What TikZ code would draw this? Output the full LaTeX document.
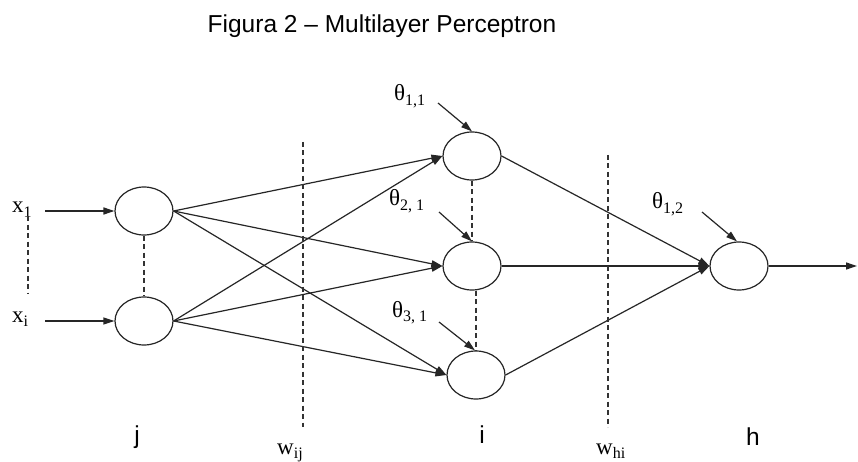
\documentclass[tikz,border=0pt]{standalone}
\usepackage{fontspec}
\setmainfont{Liberation Serif}
\newfontfamily\labsans{Liberation Sans}
\usetikzlibrary{shapes.geometric,arrows.meta}
\newcommand\lsub[1]{\raisebox{-0.4ex}{\fontsize{16}{16}\selectfont #1}}
\tikzset{
  neuron/.style={ellipse, draw=black!85, line width=1.2pt, minimum width=58pt, minimum height=48pt, inner sep=0pt},
  conn/.style={draw=black!85, line width=1.2pt, -{Triangle[length=11pt,width=7pt]}},
  dashline/.style={draw=black!80, line width=1.2pt, dash pattern=on 5pt off 3.5pt},
  serlab/.style={font=\fontsize{23}{23}\selectfont, inner sep=0pt, anchor=base west},
  sanlab/.style={font=\labsans\fontsize{24.5}{24.5}\selectfont, inner sep=0pt, anchor=base}
}
\begin{document}
\begin{tikzpicture}[x=1pt,y=-1pt]
\useasboundingbox[fill=white] (0,0) rectangle (858,462);
% title
\node[sanlab] (title) at (382,33) {Figura 2 – Multilayer Perceptron};
% neurons
\node[neuron] (in1) at (144,211) {};
\node[neuron] (in2) at (144,321) {};
\node[neuron] (h1) at (472,156) {};
\node[neuron] (h2) at (472,266) {};
\node[neuron] (h3) at (476,375) {};
\node[neuron] (out) at (739,266) {};
% input labels
\node[serlab] (x1) at (12,213) {x\lsub{1}};
\node[serlab] (xi) at (12,322) {x\lsub{i}};
\coordinate (x1s) at (45,211);
\coordinate (xis) at (45,321);
\draw[conn, line width=1.6pt] (x1s) -- (in1.west);
\draw[conn] (xis) -- (in2.west);
\coordinate (xd1) at (28,216);
\coordinate (xd2) at (28,293);
\draw[dashline] (xd1) -- (xd2);
\draw[dashline] (in1.south) -- (in2.north);
% input -> hidden
\foreach \a in {in1,in2}{
  \foreach \b in {h1,h2,h3}{
    \draw[conn] (\a.east) -- (\b.west);
  }
}
% hidden -> output
\foreach \b in {h1,h2,h3}{
  \draw[conn] (\b.east) -- (out.west);
}
\coordinate (yout) at (857,266);
\draw[conn] (out.east) -- (yout);
% hidden dashed links
\draw[dashline] (h1.south) -- (h2.north);
\draw[dashline] (h3.north |- h2.south) -- (h3.north);
% weight separators
\coordinate (wa1) at (303,142);
\coordinate (wa2) at (303,427);
\coordinate (wb1) at (608,155);
\coordinate (wb2) at (608,427);
\draw[dashline] (wa1) -- (wa2);
\draw[dashline] (wb1) -- (wb2);
% theta labels and arrows
\node[serlab] (t11) at (394,101) {θ\lsub{1,1}};
\node[serlab] (t21) at (389,206) {θ\lsub{2, 1}};
\node[serlab] (t31) at (392,317) {θ\lsub{3, 1}};
\node[serlab] (t12) at (652,209) {θ\lsub{1,2}};
\coordinate (a11) at (438,103);
\coordinate (a21) at (439,212);
\coordinate (a31) at (439,322);
\coordinate (a12) at (702,212);
\draw[conn] (a11) -- (h1.north);
\draw[conn] (a21) -- (h2.north);
\draw[conn] (a31) -- ([xshift=-1pt]h3.north);
\draw[conn] (a12) -- ([xshift=-2pt]out.north);
% bottom labels
\node[sanlab] (lj) at (137,443) {j};
\node[sanlab] (li) at (482,443) {i};
\node[sanlab] (lh) at (753,445) {h};
\node[serlab] (wij) at (277,454) {w\lsub{ij}};
\node[serlab] (whi) at (596,454) {w\lsub{hi}};
\end{tikzpicture}
\end{document}
